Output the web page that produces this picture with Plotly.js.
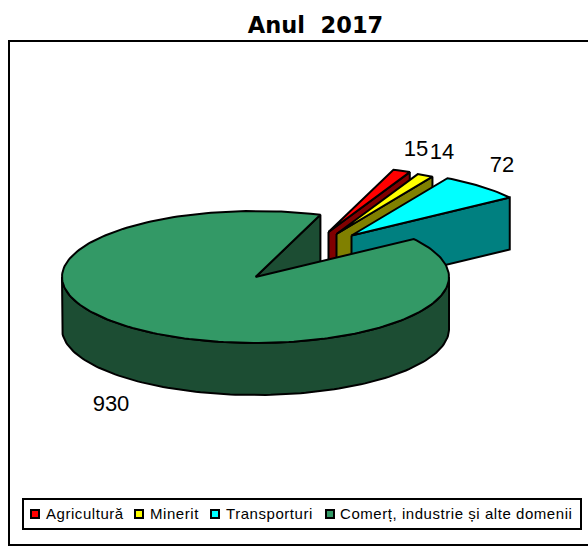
<!DOCTYPE html>
<html>
<head>
<meta charset="utf-8">
<script src="https://cdn.plot.ly/plotly-3.0.1.min.js"></script>
<style>
html,body{margin:0;padding:0;background:#fff;overflow:hidden}
.scatterlayer .trace:last-child .textpoint text{letter-spacing:.55px}
</style>
</head>
<body>
<div id="chart" style="width:588px;height:546px"></div>
<script>
// Data
const categories = ["Agricultură", "Minerit", "Transporturi", "Comerț, industrie și alte domenii"];
const values = [15, 14, 72, 930];
const titleText = "Anul\u00A0\u00A02017";

// Styles
const topColors = ["#FF0000", "#FFFF00", "#00FFFF", "#339966"];
const sideColors = ["#800000", "#808000", "#008080", "#1C4D33"];

// Layout constants (page pixels)
const C = {x: 255.5, y: 277, rx: 193.5, ry: 66, depth: 52, firstAngle: 19.6};
const explode = [[73, -45], [81, -43], [96, -41.5], [0, 0]];
const labelPos = [[416, 150], [442, 153.5], [502, 166], [111, 405]];
const legendX = [35, 139, 215, 330];
const legendTextX = [46, 150, 226, 340];
const legendY = 514;
const legendTextY = 515.5;

const total = values.reduce((a, b) => a + b, 0);
const pt = (deg, off, dz) => {
  const r = deg * Math.PI / 180;
  return [C.x + off[0] + C.rx * Math.sin(r), C.y + off[1] - C.ry * Math.cos(r) + (dz || 0)];
};
const arc = (a0, a1, off, dz) => {
  const n = Math.max(2, Math.ceil(Math.abs(a1 - a0) / 1.5));
  const out = [];
  for (let i = 0; i <= n; i++) out.push(pt(a0 + (a1 - a0) * i / n, off, dz));
  return out;
};
const poly = (pts, fill, name) => ({
  type: "scatter", mode: "lines", name: name, showlegend: false, hoverinfo: "skip",
  x: pts.map(p => p[0]).concat([pts[0][0]]),
  y: pts.map(p => p[1]).concat([pts[0][1]]),
  fill: "toself", fillcolor: fill,
  line: {color: "#000", width: 2, shape: "linear"}
});

let angle = C.firstAngle;
const spans = values.map(v => { const s = [angle, angle + v / total * 360]; angle = s[1]; return s; });
const traces = [];

// Green: rear cut face
const g = 3, gs = spans[g], go = explode[g];
const apex0 = [C.x, C.y];
traces.push(poly([apex0, pt(gs[1], go), pt(gs[1], go, C.depth), [C.x, C.y + C.depth]], sideColors[g], categories[g]));

// Small exploded slices: cut face then top
[0, 1, 2].forEach(i => {
  const s = spans[i], o = explode[i];
  const a = [C.x + o[0], C.y + o[1]];
  traces.push(poly([a, pt(s[1], o), pt(s[1], o, C.depth), [a[0], a[1] + C.depth]], sideColors[i], categories[i]));
  traces.push(poly([a].concat(arc(s[0], s[1], o)), topColors[i], categories[i]));
});

// Green wall and top
const front = arc(Math.max(gs[0], 90), 270, go);
const frontLow = arc(270, Math.max(gs[0], 90), go, C.depth);
traces.push(poly(front.concat(frontLow), sideColors[g], categories[g]));
traces.push(poly([apex0].concat(arc(gs[0], gs[1], go)), topColors[g], categories[g]));

// Value labels
traces.push({
  type: "scatter", mode: "text", showlegend: false, hoverinfo: "skip",
  x: labelPos.map(p => p[0]), y: labelPos.map(p => p[1]),
  text: values.map(String), textposition: "middle center",
  textfont: {family: "Liberation Sans, Arial, sans-serif", size: 22, color: "#000"}
});

// Legend swatches and labels
traces.push({
  type: "scatter", mode: "markers", showlegend: false, hoverinfo: "skip",
  x: legendX, y: legendX.map(() => legendY),
  marker: {symbol: "square", size: 8, color: topColors, line: {color: "#000", width: 2}}
});
traces.push({
  type: "scatter", mode: "text", showlegend: false, hoverinfo: "skip",
  x: legendTextX, y: legendX.map(() => legendTextY),
  text: categories, textposition: "middle right",
  textfont: {family: "Liberation Sans, Arial, sans-serif", size: 15, color: "#000"}
});

const layout = {
  width: 588, height: 546,
  margin: {l: 0, r: 0, t: 0, b: 0},
  paper_bgcolor: "#fff", plot_bgcolor: "#fff",
  showlegend: false,
  title: {text: titleText, x: 315.5 / 588, xanchor: "center", y: 1 - 25 / 546, yanchor: "middle",
    font: {family: "DejaVu Sans, sans-serif", size: 22.5, color: "#000", weight: "bold"}},
  xaxis: {range: [0, 588], visible: false, fixedrange: true},
  yaxis: {range: [546, 0], visible: false, fixedrange: true},
  shapes: [
    {type: "path", path: "M 590 41 L 9 41 L 9 545 L 590 545", xref: "x", yref: "y", line: {color: "#000", width: 2}, layer: "below"},
    {type: "rect", x0: 23, x1: 581, y0: 499, y1: 529, xref: "x", yref: "y", line: {color: "#000", width: 2}, fillcolor: "#fff", layer: "below"}
  ]
};
Plotly.newPlot("chart", traces, layout, {displayModeBar: false, staticPlot: true});
</script>
</body>
</html>
